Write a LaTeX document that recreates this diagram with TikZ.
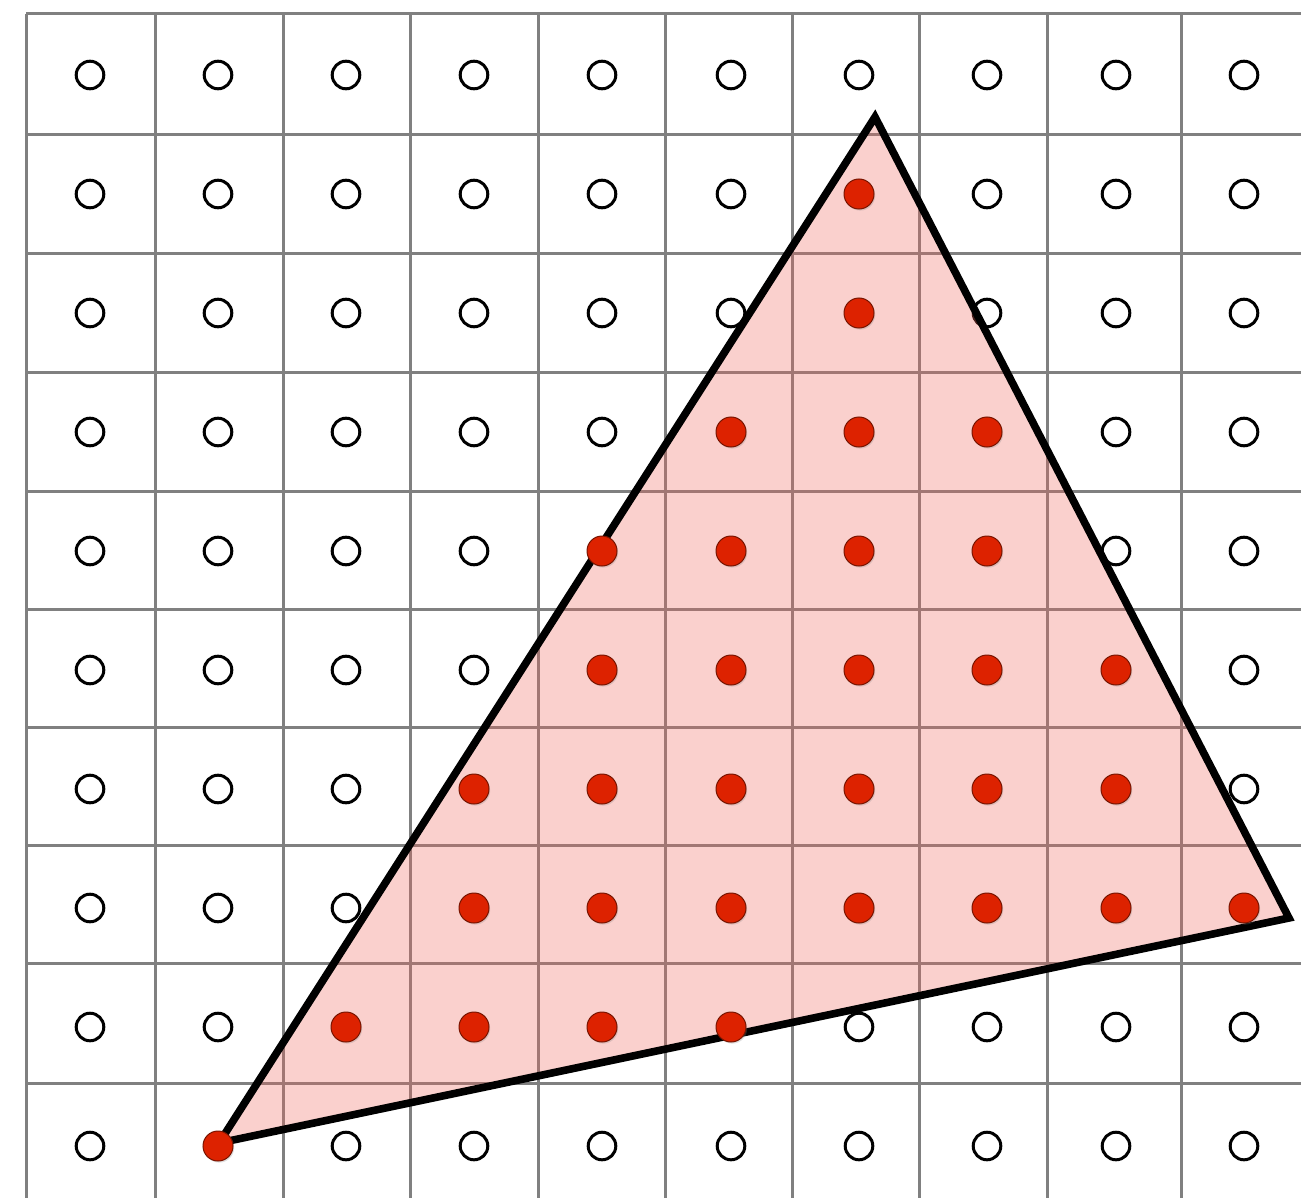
\documentclass[tikz,border=0pt]{standalone}
\usetikzlibrary{shadows}
\definecolor{gridgray}{RGB}{128,128,128}
\definecolor{dotred}{RGB}{221,34,0}
\definecolor{dotedge}{RGB}{120,20,0}
\definecolor{tripink}{RGB}{240,100,90}
\tikzset{
  gridline/.style={draw=gridgray, line width=1.5pt},
  opendot/.style={circle, draw=black, fill=white, line width=1.5pt, inner sep=0pt, minimum size=13.8pt},
  reddot/.style={circle, draw=dotedge, fill=dotred, line width=0.5pt, inner sep=0pt, minimum size=15pt,
     drop shadow={shadow xshift=0.6pt, shadow yshift=-0.8pt, opacity=0.25}},
  tri/.style={draw=black, line width=3.8pt, line join=miter, fill=tripink, fill opacity=0.3}
}
\begin{document}
\begin{tikzpicture}[x=0.5pt, y=-0.5pt]
\useasboundingbox (0,0) rectangle (1301,1198);
\fill[white] (0,0) rectangle (1301,1198);
% grid
\foreach \gx in {26,155,283,410,538,665,792,919,1047,1181}
  \draw[gridline] (\gx,14) -- (\gx,1198);
\foreach \gy in {14,135,254,372,491,609,727,845,963,1083}
  \draw[gridline] (26,\gy) -- (1301,\gy);
% red sample set: list of (col,row)
\def\redlist{6/1,6/2,5/3,6/3,7/3,4/4,5/4,6/4,7/4,4/5,5/5,6/5,7/5,8/5,3/6,4/6,5/6,6/6,7/6,8/6,3/7,4/7,5/7,6/7,7/7,8/7,9/7,2/8,3/8,4/8,5/8,1/9}
% open sample points
\foreach \c/\cx in {0/90,1/218,2/346,3/474,4/602,5/731,6/859,7/987,8/1116,9/1244}{
  \foreach \r/\cy in {0/75,1/194,2/313,3/432,4/551,5/670,6/789,7/908,8/1027,9/1146}{
    \def\isred{0}
    \foreach \rc/\rr in \redlist {
      \ifnum\rc=\c \ifnum\rr=\r \global\def\isred{1}\fi\fi
    }
    \ifnum\isred=0
      \node[opendot] (o-\c-\r) at (\cx,\cy) {};
    \fi
    \global\def\isred{0}
  }
}
% triangle
\coordinate (A) at (875,117);
\coordinate (B) at (1289,918);
\coordinate (C) at (219,1143);
\draw[tri] (A) -- (B) -- (C) -- cycle;
% red sample points
\foreach \c/\cx in {0/90,1/218,2/346,3/474,4/602,5/731,6/859,7/987,8/1116,9/1244}{
  \foreach \r/\cy in {0/75,1/194,2/313,3/432,4/551,5/670,6/789,7/908,8/1027,9/1146}{
    \foreach \rc/\rr in \redlist {
      \ifnum\rc=\c \ifnum\rr=\r
        \node[reddot] (p-\c-\r) at (\cx,\cy) {};
      \fi\fi
    }
  }
}
\end{tikzpicture}
\end{document}
